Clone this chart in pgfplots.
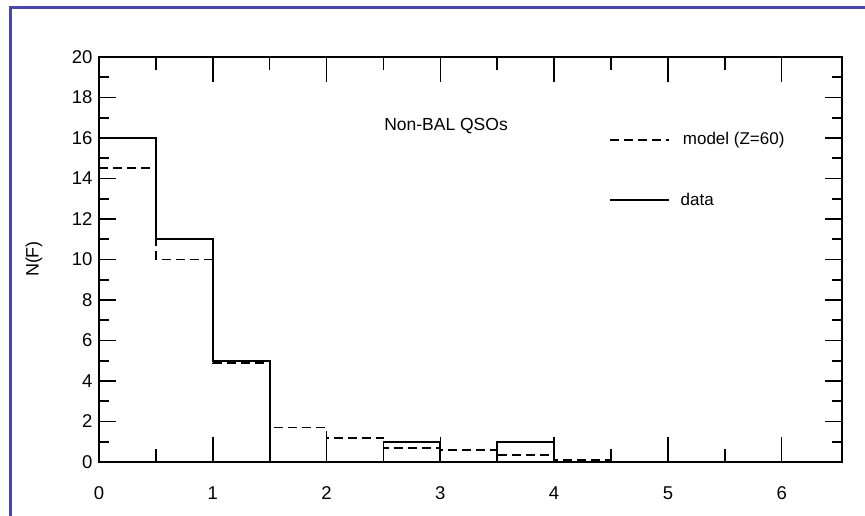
\documentclass[border=0pt]{standalone}
\usepackage{fontspec}
\setmainfont{Liberation Sans}
\usepackage{pgfplots}
\pgfplotsset{compat=1.18}
\definecolor{framecol}{RGB}{72,72,172}
\begin{document}
\begin{tikzpicture}[x=1pt,y=1pt]
\useasboundingbox (0,0) rectangle (865,515);
\draw[framecol,line width=3.5pt] (10.5,-5) -- (10.5,507.5) -- (870,507.5);
\begin{axis}[
  at={(99pt,53pt)}, anchor=south west,
  scale only axis, width=743pt, height=405pt,
  xmin=0, xmax=6.53, ymin=0, ymax=20,
  axis line style={line width=1.8pt},
  xtick={0,1,2,3,4,5,6}, minor x tick num=1,
  ytick=\empty,
  tick align=inside,
  major tick length=25pt, minor tick length=13pt,
  every tick/.style={black,line width=1.6pt},
  xticklabel style={font=\fontsize{18.5}{18.5}\selectfont, yshift=-21pt},
  /pgf/number format/assume math mode=true,
  clip=false,
]
\addplot[const plot mark left, black, line width=1.8pt] coordinates {
 (0,16) (0.5,11) (1,5) (1.5,0) (2.5,1) (3,0) (3.5,1) (4,0) (4.5,0)
};
\addplot[const plot mark left, black, line width=1.8pt, dash pattern=on 9pt off 5pt] coordinates {
 (0,14.5) (0.5,10) (1,4.9) (1.5,1.7) (2,1.2) (2.5,0.7) (3,0.6) (3.5,0.35) (4,0.1) (4.5,0.1)
};
\node[font=\fontsize{17.5}{17.5}\selectfont] at (axis cs:3.05,16.6) {Non-BAL QSOs};
\draw[black,line width=1.8pt,dash pattern=on 9pt off 5pt] (axis cs:4.49,15.9) -- (axis cs:5.01,15.9);
\node[font=\fontsize{17}{17}\selectfont, anchor=west, inner sep=0pt] at (axis cs:5.13,15.9) {model (Z=60)};
\draw[black,line width=1.8pt] (axis cs:4.49,12.95) -- (axis cs:5.01,12.95);
\node[font=\fontsize{17}{17}\selectfont, anchor=west, inner sep=0pt] at (axis cs:5.11,12.95) {data};
\end{axis}
\begin{axis}[
  at={(99pt,53pt)}, anchor=south west,
  scale only axis, width=743pt, height=405pt,
  xmin=0, xmax=6.53, ymin=0, ymax=20,
  axis line style={line width=1.8pt},
  xtick=\empty,
  ytick={0,2,...,20}, minor y tick num=1,
  tick align=inside,
  major tick length=17pt, minor tick length=10pt,
  every tick/.style={black,line width=1.6pt},
  yticklabel style={font=\fontsize{18.5}{18.5}\selectfont, xshift=-3pt},
  /pgf/number format/assume math mode=true,
]
\end{axis}
\node[rotate=90, font=\fontsize{18}{18}\selectfont] at (34,256) {N(F)};
\end{tikzpicture}
\end{document}
